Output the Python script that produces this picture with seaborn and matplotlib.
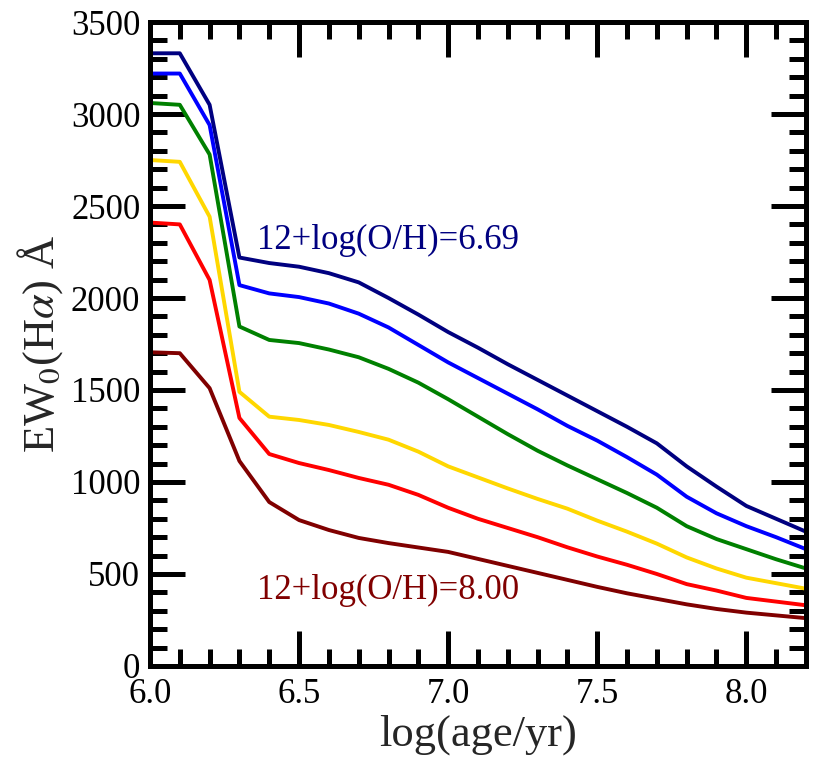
import matplotlib
matplotlib.use("Agg")
import matplotlib.pyplot as plt
from matplotlib.ticker import MultipleLocator
import seaborn as sns
import pandas as pd

# log(age/yr) grid
log_age = [6.0, 6.1, 6.2, 6.3, 6.4, 6.5, 6.6, 6.7, 6.8, 6.9, 7.0, 7.1,
           7.2, 7.3, 7.4, 7.5, 7.6, 7.7, 7.8, 7.9, 8.0, 8.1, 8.2]

# EW0(Halpha) per metallicity track
ew_669 = [3330, 3330, 3050, 2220, 2190, 2170, 2135, 2085, 2000, 1910, 1815, 1730,
          1640, 1555, 1470, 1385, 1300, 1210, 1085, 975, 870, 800, 730]
ew_blue = [3220, 3220, 2940, 2070, 2025, 2005, 1970, 1915, 1840, 1745, 1650, 1565,
           1480, 1395, 1305, 1225, 1135, 1040, 920, 830, 760, 700, 635]
ew_green = [3060, 3050, 2780, 1845, 1772, 1755, 1720, 1678, 1615, 1540, 1450, 1355,
            1260, 1170, 1090, 1015, 940, 860, 760, 690, 635, 580, 530]
ew_gold = [2750, 2740, 2442, 1490, 1355, 1337, 1310, 1272, 1230, 1165, 1085, 1025,
           965, 908, 855, 790, 730, 665, 590, 530, 480, 450, 420]
ew_red = [2410, 2400, 2098, 1348, 1152, 1103, 1065, 1022, 985, 930, 860, 800,
          750, 700, 645, 595, 550, 500, 445, 410, 370, 350, 330]
ew_800 = [1705, 1700, 1510, 1114, 891, 793, 739, 696, 668, 644, 620, 582,
          544, 506, 468, 430, 395, 365, 335, 310, 290, 275, 260]

tracks = ["t1", "t2", "t3", "t4", "t5", "t6"]
colors = ["#000080", "#0000ff", "#008000", "#ffd700", "#ff0000", "#800000"]
all_ew = [ew_669, ew_blue, ew_green, ew_gold, ew_red, ew_800]

rows = []
for name, vals in zip(tracks, all_ew):
    for a, v in zip(log_age, vals):
        rows.append({"age": a, "ew": v, "track": name})
df = pd.DataFrame(rows)

sns.set_style("ticks")
plt.rcParams["font.family"] = ["Liberation Serif", "DejaVu Serif"]
plt.rcParams["mathtext.fontset"] = "stix"

fig = plt.figure(figsize=(8.3, 7.67), dpi=100)
ax = fig.add_axes([0.1807, 0.1317, 0.7903, 0.8396])

sns.lineplot(data=df, x="age", y="ew", hue="track", palette=colors,
             linewidth=2.8, legend=False, ax=ax)

ax.set_xlim(6.0, 8.2)
ax.set_ylim(0, 3500)
ax.xaxis.set_major_locator(MultipleLocator(0.5))
ax.xaxis.set_minor_locator(MultipleLocator(0.1))
ax.yaxis.set_major_locator(MultipleLocator(500))
ax.yaxis.set_minor_locator(MultipleLocator(100))
ax.xaxis.set_major_formatter(plt.FuncFormatter(lambda v, p: f"{v:.1f}"))

ax.tick_params(which="both", direction="in", top=True, right=True,
               width=3.6, labelsize=25, colors="black")
ax.tick_params(which="major", length=25, pad=7)
ax.tick_params(axis="x", which="major", pad=9)
ax.tick_params(which="minor", length=12)
for sp in ax.spines.values():
    sp.set_linewidth(3.6)
    sp.set_color("black")

ax.set_xlabel("log(age/yr)", fontsize=32, labelpad=2)
ax.set_ylabel("EW$_0$(H$\\alpha$) Å", fontsize=32, labelpad=4)

ax.text(6.36, 2315, "12+log(O/H)=6.69", color="#000080", fontsize=25, va="center")
ax.text(6.36, 408, "12+log(O/H)=8.00", color="#800000", fontsize=25, va="center")

fig.savefig("out.png", dpi=100)
